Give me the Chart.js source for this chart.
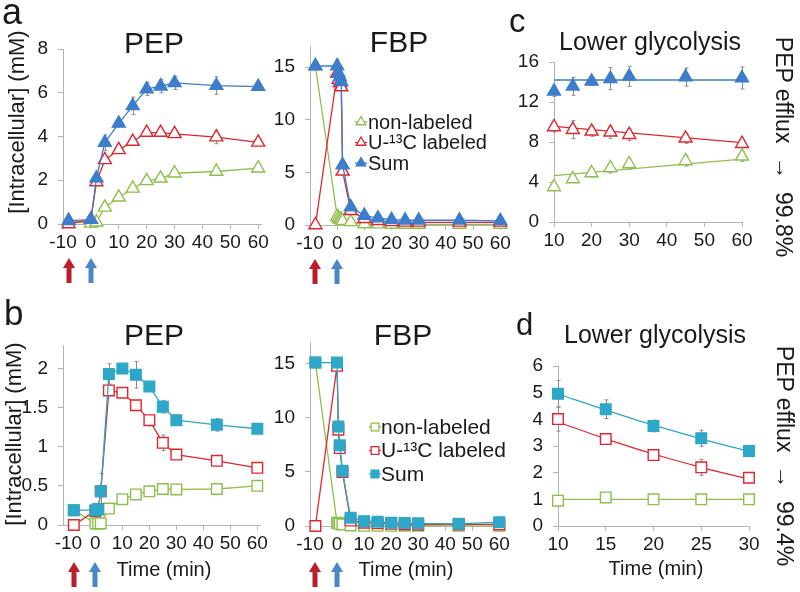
<!DOCTYPE html>
<html>
<head>
<meta charset="utf-8">
<script src="https://cdn.jsdelivr.net/npm/chart.js@4.4.1/dist/chart.umd.min.js"></script>
<style>
  body { margin: 0; background: #fff; }
  #fig { position: relative; width: 800px; height: 592px; overflow: hidden;
         font-family: 'Liberation Sans', Arial, sans-serif; color: #1a1a1a; }
  #fig canvas { position: absolute; }
  .t { position: absolute; white-space: nowrap; line-height: 1; }
</style>
</head>
<body>
<div id="fig"></div>
<script>
// ---- data ----

// a, PEP
const aPepTime = [-8, 0, 2, 5, 10, 15, 20, 25, 30, 45, 60];
const aPepNon = [0.15, 0.03, 0.08, 0.76, 1.22, 1.63, 1.97, 2.09, 2.32, 2.4, 2.55];
const aPepLab = [0, 0.2, 1.92, 2.93, 3.39, 3.77, 4.18, 4.18, 4.12, 3.97, 3.73];
const aPepSum = [0.15, 0.2, 2.1, 3.72, 4.6, 5.4, 6.17, 6.3, 6.45, 6.33, 6.28];
const aPepSumErr = [0.05, 0.05, 0.1, 0.35, 0.15, 0.4, 0.3, 0.3, 0.3, 0.4, 0.1];
const aPepLabErr = [0, 0.05, 0.1, 0.15, 0.15, 0.15, 0.1, 0.1, 0.1, 0.3, 0.1];

// a, FBP
const aFbpTime = [-8, 0, 0.5, 1, 1.5, 2, 5, 10, 15, 20, 25, 30, 45, 60];
const aFbpNon = [15.1, 0.8, 0.65, 0.55, 0.5, 0.4, 0.3, 0.1, 0.08, 0.05, 0.05, 0.05, 0.05, 0.05];
const aFbpLab = [0, 14.4, 13.8, 13.5, 13.1, 5.1, 1.35, 0.6, 0.4, 0.3, 0.25, 0.25, 0.25, 0.25];
const aFbpSum = [15.1, 15.1, 14.4, 14.05, 13.6, 5.7, 1.7, 0.9, 0.65, 0.5, 0.45, 0.45, 0.45, 0.4];
const aFbpSumErr = [0.1, 0.6, 0.4, 0.3, 0.3, 0.3, 0.2, 0.1, 0.1, 0.05, 0.05, 0.05, 0.05, 0.05];

// c, lower glycolysis
const cTime = [10, 15, 20, 25, 30, 45, 60];
const cNon = [3.5, 4.3, 4.9, 5.4, 5.8, 6.1, 6.57];
const cLab = [9.5, 9.23, 9.07, 8.97, 8.73, 8.37, 7.83];
const cSum = [13.07, 13.57, 14.07, 14.33, 14.57, 14.5, 14.4];
const cNonErr = [0.3, 0.3, 0.4, 0.5, 0.5, 0.5, 0.5];
const cLabErr = [0.5, 0.9, 0.5, 0.6, 0.6, 0.5, 0.4];
const cSumErr = [0.5, 0.9, 0.4, 1.1, 1.0, 0.9, 1.1];
const cFitTime = [10, 60];
const cFitNon = [4.63, 6.28];
const cFitLab = [9.57, 7.93];
const cFitSum = [14.2, 14.2];

// b, PEP
const bPepTime = [-8, 0, 1, 2, 5, 10, 15, 20, 25, 30, 45, 60];
const bPepNon = [0.19, 0.02, 0.02, 0.02, 0.21, 0.33, 0.39, 0.43, 0.46, 0.455, 0.46, 0.5];
const bPepLab = [0, 0.18, 0.2, 0.43, 1.72, 1.69, 1.53, 1.34, 1.05, 0.9, 0.82, 0.73];
const bPepSum = [0.19, 0.19, 0.2, 0.43, 1.93, 2.0, 1.92, 1.77, 1.51, 1.34, 1.28, 1.23];
const bPepSumErr = [0.02, 0.02, 0.05, 0.23, 0.13, 0.03, 0.17, 0.05, 0.08, 0.03, 0.08, 0.03];
const bPepLabErr = [0, 0.02, 0.05, 0.05, 0.05, 0.05, 0.05, 0.05, 0.1, 0.05, 0.05, 0.05];

// b, FBP
const bFbpTime = [-8, 0, 0.5, 1, 2, 5, 10, 15, 20, 25, 30, 45, 60];
const bFbpNon = [15.1, 0.3, 0.25, 0.2, 0.15, 0.05, 0.02, 0.02, 0.02, 0.02, 0.02, 0.02, 0.02];
const bFbpLab = [0, 14.8, 8.9, 7.2, 5.0, 0.5, 0.3, 0.25, 0.2, 0.15, 0.12, 0.15, 0.15];
const bFbpSum = [15.1, 15.1, 9.2, 7.45, 5.1, 0.77, 0.45, 0.4, 0.3, 0.28, 0.25, 0.2, 0.35];

// d, lower glycolysis
const dTime = [10, 15, 20, 25, 30];
const dNon = [0.95, 1.07, 1.0, 1.0, 1.0];
const dLab = [4.01, 3.26, 2.66, 2.2, 1.81];
const dSum = [4.96, 4.38, 3.75, 3.29, 2.81];
const dNonErr = [0.05, 0.12, 0.05, 0.05, 0.05];
const dLabErr = [0.45, 0.2, 0.15, 0.3, 0.1];
const dSumErr = [0.5, 0.35, 0.22, 0.3, 0.05];
const dFitNon = [1.0, 1.0, 1.0, 1.0, 1.0];
const dFitLab = [3.9, 3.27, 2.7, 2.2, 1.76];
const dFitSum = [4.95, 4.35, 3.78, 3.27, 2.8];

// tick labels
const timeTicks = [-10, 0, 10, 20, 30, 40, 50, 60];
const cTimeTicks = [10, 20, 30, 40, 50, 60];
const dTimeTicks = [10, 15, 20, 25, 30];
const aPepTicks = [0, 2, 4, 6, 8];
const fbpTicks = [0, 5, 10, 15];
const cTicks = [0, 4, 8, 12, 16];
const bPepTicks = [0, 0.5, 1, 1.5, 2];
const dTicks = [0, 1, 2, 3, 4, 5, 6];

// label switch times (red = 13C glucose, blue = 0)
const switchTimes = [-8, 0];

const labels = ['non-labeled', 'U-¹³C labeled', 'Sum'];

// ---- styles ----
const GREEN = '#8dc04b', RED = '#e0262e', BLUE = '#3c7dcc', CYAN = '#2ea7c9';
const AXIS = '#b4b4b4', ERR = '#8c8c8c';
const YW = 50, XH = 36, PT = 26, PR = 20;

Chart.defaults.font.family = "'Liberation Sans', Arial, sans-serif";
Chart.defaults.color = '#1a1a1a';

const fig = document.getElementById('fig');

// error bars, drawn under the markers
const errorBars = {
  id: 'errorBars',
  beforeDatasetsDraw(chart) {
    const ctx = chart.ctx, ys = chart.scales.y;
    ctx.save();
    ctx.strokeStyle = ERR;
    ctx.lineWidth = 1;
    chart.data.datasets.forEach((ds, di) => {
      if (!ds.errorBars) return;
      chart.getDatasetMeta(di).data.forEach((pt, i) => {
        const e = ds.errorBars[i];
        if (!e) return;
        const v = ds.data[i].y;
        const y1 = ys.getPixelForValue(v - e), y2 = ys.getPixelForValue(v + e);
        const x = Math.round(pt.x) + 0.5;
        ctx.beginPath();
        ctx.moveTo(x, y1); ctx.lineTo(x, y2);
        ctx.moveTo(x - 2, y1); ctx.lineTo(x + 2, y1);
        ctx.moveTo(x - 2, y2); ctx.lineTo(x + 2, y2);
        ctx.stroke();
      });
    });
    ctx.restore();
  }
};

function marker(ctx, shape, x, y, r) {
  ctx.beginPath();
  if (shape === 'triangle') {
    for (let k = 0; k < 3; k++) {
      const a = k * 2 * Math.PI / 3;
      ctx[k ? 'lineTo' : 'moveTo'](x + Math.sin(a) * r, y - Math.cos(a) * r);
    }
    ctx.closePath();
  } else {
    const s = r * Math.SQRT1_2;
    ctx.rect(x - s, y - s, 2 * s, 2 * s);
  }
  ctx.fill();
  ctx.stroke();
}

// legend placed inside the plot
const inLegend = {
  id: 'inLegend',
  afterDatasetsDraw(chart, args, opts) {
    if (!opts.dx) return;
    const ctx = chart.ctx, area = chart.chartArea;
    ctx.save();
    ctx.font = opts.size + "px 'Liberation Sans', Arial, sans-serif";
    ctx.textBaseline = 'middle';
    chart.data.datasets.forEach((ds, i) => {
      const x = area.left + opts.dx, y = area.top + opts.dy + i * opts.rowH;
      ctx.strokeStyle = ds.borderColor;
      ctx.lineWidth = 1.3;
      ctx.beginPath(); ctx.moveTo(x - 6, y); ctx.lineTo(x + 6, y); ctx.stroke();
      ctx.fillStyle = ds.pointBackgroundColor;
      marker(ctx, ds.pointStyle, x, y, 5.5);
      ctx.fillStyle = '#1a1a1a';
      ctx.fillText(ds.label, x + opts.textGap, y + 1);
    });
    ctx.restore();
  }
};

// red / blue arrows under the time axis
const doseArrows = {
  id: 'doseArrows',
  afterDraw(chart, args, opts) {
    if (!opts.gap) return;
    const ctx = chart.ctx, xs = chart.scales.x, top = chart.chartArea.bottom + opts.gap;
    const colors = ['#b81f2b', '#4a87c9'];
    ctx.save();
    switchTimes.forEach((t, i) => {
      const px = Math.round(xs.getPixelForValue(t));
      ctx.fillStyle = colors[i];
      ctx.beginPath();
      ctx.moveTo(px, top);
      ctx.lineTo(px + 6, top + 10);
      ctx.lineTo(px + 2.5, top + 10);
      ctx.lineTo(px + 2.5, top + 25);
      ctx.lineTo(px - 2.5, top + 25);
      ctx.lineTo(px - 2.5, top + 10);
      ctx.lineTo(px - 6, top + 10);
      ctx.closePath();
      ctx.fill();
    });
    ctx.restore();
  }
};

function axis(range, ticks, isX) {
  return {
    type: 'linear', min: range[0], max: range[1],
    afterBuildTicks: s => { s.ticks = ticks.map(v => ({ value: v })); },
    afterFit: s => { if (isX) s.height = XH; else s.width = YW; },
    grid: { drawOnChartArea: false, drawTicks: true, tickLength: 5, color: AXIS },
    border: { color: AXIS, width: 1 },
    ticks: { font: { size: 19 }, color: '#1a1a1a', padding: isX ? 2 : 10,
             maxRotation: 0, autoSkip: false, callback: v => String(v) }
  };
}

function series(label, xs, ys, color, shape, filled, extra) {
  return Object.assign({
    label,
    data: xs.map((x, i) => ({ x, y: ys[i] })),
    borderColor: color, borderWidth: 1.3,
    pointStyle: shape, pointRadius: 7.5,
    pointBorderColor: color, pointBackgroundColor: filled ? color : '#fff',
    pointBorderWidth: 1.4, showLine: true, clip: false, tension: 0, fill: false
  }, extra || {});
}

function fitLine(xs, ys, color, smooth) {
  return {
    data: xs.map((x, i) => ({ x, y: ys[i] })),
    borderColor: color, borderWidth: 1.3, pointRadius: 0, showLine: true,
    clip: false, fill: false, tension: smooth ? 0.4 : 0, order: 5
  };
}

function panel(box, xRange, yRange, xTicks, yTicks, datasets, extra = {}) {
  const pb = extra.pb || 0;
  const c = document.createElement('canvas');
  c.width = box.r - box.l + YW + PR;
  c.height = box.b - box.t + PT + XH + pb;
  c.style.left = (box.l - YW) + 'px';
  c.style.top = (box.t - PT) + 'px';
  fig.appendChild(c);
  new Chart(c, {
    type: 'line',
    data: { datasets },
    options: {
      responsive: false, animation: false, events: [],
      layout: { padding: { top: PT, right: PR, bottom: pb, left: 0 } },
      plugins: {
        legend: { display: false }, tooltip: { enabled: false },
        inLegend: extra.legend || {}, doseArrows: extra.arrows || {}
      },
      scales: { x: axis(xRange, xTicks, true), y: axis(yRange, yTicks, false) }
    },
    plugins: [errorBars, inLegend, doseArrows]
  });
}

// ---- panels ----
panel({ l: 63, t: 49, r: 261, b: 224 }, [-10, 61], [0, 8], timeTicks, aPepTicks, [
  series(labels[0], aPepTime, aPepNon, GREEN, 'triangle', false, { order: 3 }),
  series(labels[1], aPepTime, aPepLab, RED, 'triangle', false, { order: 2, errorBars: aPepLabErr }),
  series(labels[2], aPepTime, aPepSum, BLUE, 'triangle', true, { order: 1, errorBars: aPepSumErr })
], { pb: 30, arrows: { gap: 34 } });

panel({ l: 310, t: 46, r: 503, b: 225 }, [-10, 61], [0, 17], timeTicks, fbpTicks, [
  series(labels[0], aFbpTime, aFbpNon, GREEN, 'triangle', false, { order: 3 }),
  series(labels[1], aFbpTime, aFbpLab, RED, 'triangle', false, { order: 2 }),
  series(labels[2], aFbpTime, aFbpSum, BLUE, 'triangle', true, { order: 1, errorBars: aFbpSumErr })
], { pb: 30, arrows: { gap: 34 }, legend: { dx: 51, dy: 76, rowH: 20.5, size: 20, textGap: 7 } });

panel({ l: 554, t: 62, r: 742, b: 222 }, [10, 60], [0, 16], cTimeTicks, cTicks, [
  series(labels[0], cTime, cNon, GREEN, 'triangle', false, { showLine: false, errorBars: cNonErr }),
  series(labels[1], cTime, cLab, RED, 'triangle', false, { showLine: false, errorBars: cLabErr }),
  series(labels[2], cTime, cSum, BLUE, 'triangle', true, { showLine: false, errorBars: cSumErr }),
  fitLine(cFitTime, cFitNon, GREEN), fitLine(cFitTime, cFitLab, RED), fitLine(cFitTime, cFitSum, BLUE)
]);

panel({ l: 63, t: 345, r: 260, b: 525 }, [-12, 61], [0, 2.3], timeTicks, bPepTicks, [
  series(labels[0], bPepTime, bPepNon, GREEN, 'rect', false, { order: 3 }),
  series(labels[1], bPepTime, bPepLab, RED, 'rect', false, { order: 2, errorBars: bPepLabErr }),
  series(labels[2], bPepTime, bPepSum, CYAN, 'rect', true, { order: 1, errorBars: bPepSumErr })
], { pb: 28, arrows: { gap: 37 } });

panel({ l: 310, t: 342, r: 502, b: 526 }, [-10, 61], [0, 17], timeTicks, fbpTicks, [
  series(labels[0], bFbpTime, bFbpNon, GREEN, 'rect', false, { order: 3 }),
  series(labels[1], bFbpTime, bFbpLab, RED, 'rect', false, { order: 2 }),
  series(labels[2], bFbpTime, bFbpSum, CYAN, 'rect', true, { order: 1 })
], { pb: 28, arrows: { gap: 36 }, legend: { dx: 65, dy: 85, rowH: 23.5, size: 21, textGap: 6 } });

panel({ l: 558, t: 366, r: 749, b: 526 }, [10, 30], [0, 6], dTimeTicks, dTicks, [
  series(labels[0], dTime, dNon, GREEN, 'rect', false, { showLine: false, errorBars: dNonErr }),
  series(labels[1], dTime, dLab, RED, 'rect', false, { showLine: false, errorBars: dLabErr }),
  series(labels[2], dTime, dSum, CYAN, 'rect', true, { showLine: false, errorBars: dSumErr }),
  fitLine(dTime, dFitNon, GREEN), fitLine(dTime, dFitLab, RED, true), fitLine(dTime, dFitSum, CYAN, true)
]);

// ---- text ----
function txt(html, x, base, size, center) {
  const d = document.createElement('div');
  d.className = 't';
  d.innerHTML = html;
  d.style.fontSize = size + 'px';
  d.style.left = x + 'px';
  d.style.top = (base - 0.85 * size) + 'px';
  if (center) d.style.transform = 'translateX(-50%)';
  fig.appendChild(d);
}
function rtxt(html, cx, cy, size, deg) {
  const d = document.createElement('div');
  d.className = 't';
  d.innerHTML = html;
  d.style.fontSize = size + 'px';
  d.style.left = cx + 'px';
  d.style.top = cy + 'px';
  d.style.transform = 'translate(-50%, -50%) rotate(' + deg + 'deg)';
  fig.appendChild(d);
}

txt('a', 2, 25, 36);
txt('b', 4, 325, 35);
txt('c', 509, 32, 33);
txt('d', 516, 335, 31);

txt('PEP', 154, 53, 30, true);
txt('FBP', 399, 52, 30, true);
txt('Lower glycolysis', 650, 50, 25, true);
txt('PEP', 154, 345, 30, true);
txt('FBP', 403, 345, 30, true);
txt('Lower glycolysis', 655, 343, 25, true);

rtxt('[Intracellular] (mM)', 17, 122, 22, -90);
rtxt('[Intracellular] (mM)', 14, 434, 22, -90);

rtxt('PEP efflux &nbsp;→&nbsp; 99.8%', 783, 147, 23, 90);
rtxt('PEP efflux &nbsp;→&nbsp; 99.4%', 784, 456, 23, 90);

txt('Time (min)', 164, 576, 20, true);
txt('Time (min)', 406, 576, 20, true);
txt('Time (min)', 656, 575, 20, true);
</script>
</body>
</html>
